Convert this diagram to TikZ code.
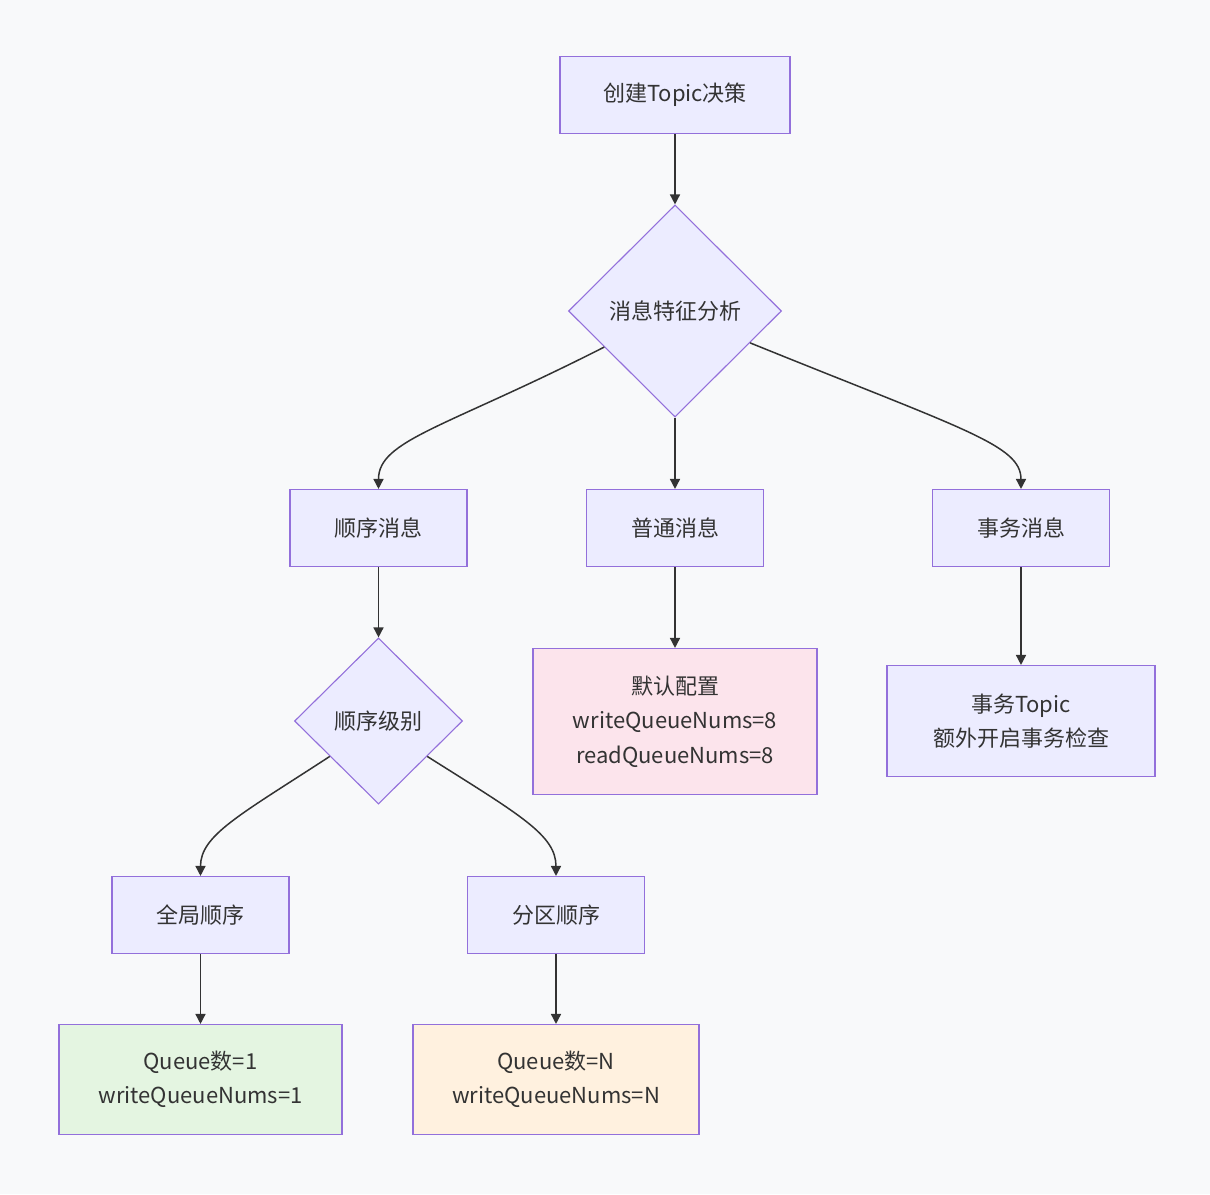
\documentclass[tikz,border=0pt]{standalone}
\usepackage{fontspec}
\setmainfont{Noto Sans CJK SC}
\usetikzlibrary{shapes.geometric, arrows.meta}
\definecolor{bgcol}{HTML}{F8F9FA}
\definecolor{nodefill}{HTML}{ECECFF}
\definecolor{nodeline}{HTML}{9370DB}
\definecolor{pinkfill}{HTML}{FCE4EC}
\definecolor{greenfill}{HTML}{E4F5E1}
\definecolor{orangefill}{HTML}{FFF1DF}
\definecolor{ink}{HTML}{333333}

\begin{document}
\begin{tikzpicture}[x=0.5pt, y=-0.5pt,
  box/.style={draw=nodeline, fill=nodefill, line width=0.55pt, minimum width=88.5pt,
    minimum height=38.5pt, inner sep=0pt, align=center, text=ink,
    font=\fontsize{11}{17.25}\selectfont},
  decision/.style={box, diamond, aspect=1},
  flow/.style={draw=ink, line width=0.75pt, -{Triangle[length=5pt,width=5pt]}}]

  \fill[bgcol] (0,0) rectangle (1210,1194);
  \useasboundingbox (0,0) rectangle (1210,1194);

  \node[box, minimum width=115pt] (start) at (675,95) {创建Topic决策};
  \node[decision, minimum width=106.5pt, minimum height=106pt] (kind) at (675,311) {消息特征分析};

  \node[box] (ordered) at (378.5,528) {顺序消息};
  \node[box] (normal) at (675,528) {普通消息};
  \node[box] (trans) at (1021,528) {事务消息};

  \node[decision, minimum width=84pt, minimum height=83pt] (level) at (378.5,721) {顺序级别};
  \node[box, fill=pinkfill, minimum width=142pt, minimum height=73pt] (defcfg) at (675,721.5)
    {默认配置\\writeQueueNums=8\\readQueueNums=8};
  \node[box, minimum width=134pt, minimum height=55.5pt] (transcfg) at (1021,721)
    {事务Topic\\额外开启事务检查};

  \node[box] (global) at (200.5,915) {全局顺序};
  \node[box] (part) at (556,915) {分区顺序};

  \node[box, fill=greenfill, minimum width=141.5pt, minimum height=55pt] (globalcfg) at (200.5,1079.5)
    {Queue数=1\\writeQueueNums=1};
  \node[box, fill=orangefill, minimum width=143pt, minimum height=55pt] (partcfg) at (556,1079.5)
    {Queue数=N\\writeQueueNums=N};

  \draw[flow] (start) -- (kind);
  \draw[flow] (kind.207) .. controls (445,428) and (378.5,440) .. (ordered.north);
  \draw[flow] (kind) -- (normal);
  \draw[flow] (kind.337) .. controls (965,430) and (1021,445) .. (trans.north);

  \draw[flow] (ordered) -- (level);
  \draw[flow] (normal) -- (defcfg);
  \draw[flow] (trans) -- (transcfg);

  \draw[flow] (level.216) .. controls (240,815) and (200.5,835) .. (global.north);
  \draw[flow] (level.324) .. controls (520,815) and (556,835) .. (part.north);

  \draw[flow] (global) -- (globalcfg);
  \draw[flow] (part) -- (partcfg);
\end{tikzpicture}
\end{document}
